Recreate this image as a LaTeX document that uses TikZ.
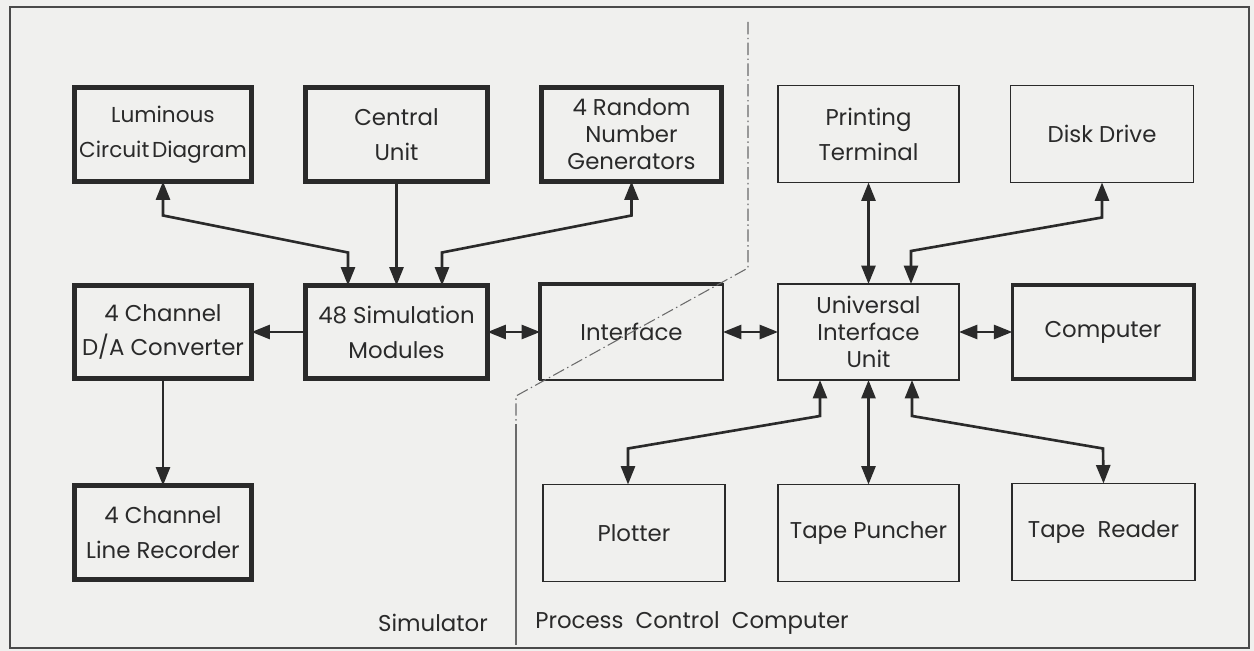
\documentclass[tikz,border=0pt]{standalone}
\usepackage{fontspec}
\setmainfont{Poppins}
\usetikzlibrary{arrows.meta,calc}
\definecolor{ink}{HTML}{2A2A2A}
\definecolor{paper}{HTML}{F0F0EE}
\definecolor{divcol}{HTML}{6A6A6A}
\begin{document}
\begin{tikzpicture}[x=0.02cm,y=-0.02cm,
  box/.style={draw=ink, text=ink, align=center, inner sep=0pt, outer sep=0pt,
    font=\fontsize{13}{19.9}\selectfont},
  heavy/.style={box, line width=2.9pt},
  light/.style={box, line width=1.1pt},
  medium/.style={box, line width=2pt},
  three/.style={font=\fontsize{13}{15.4}\selectfont},
  conn/.style={draw=ink, line width=1.5pt},
  tip/.tip={Triangle[length=10.5pt,width=8pt]},
  one/.style={conn, -tip},
  dbl/.style={conn, tip-tip},
  divider/.style={draw=divcol, line width=0.6pt, dash pattern=on 7pt off 2pt on 0.8pt off 2pt},
  lbl/.style={text=ink, inner sep=0pt, font=\fontsize{13}{16}\selectfont}
]
\useasboundingbox (0,0) rectangle (1254,651);
\fill[paper] (0,0) rectangle (1254,651);
\draw[ink!85, line width=1.3pt] (10,7) rectangle (1249,648);

% row 1
\node[heavy, minimum width=3.54cm, minimum height=1.88cm, font=\fontsize{12.3}{19.9}\selectfont] (lum) at (163,134.5) {Luminous\\Circuit\hspace{0.12em}Diagram};
\node[heavy, minimum width=3.64cm, minimum height=1.88cm] (cen) at (396.5,134.5) {Central\\Unit};
\node[heavy, three, minimum width=3.60cm, minimum height=1.88cm] (rng) at (631.5,134.5) {4 Random\\Number\\Generators};
\node[light, minimum width=3.62cm, minimum height=1.94cm] (prt) at (868.5,134) {Printing\\Terminal};
\node[light, minimum width=3.66cm, minimum height=1.94cm] (dsk) at (1102,134) {Disk Drive};
% row 2
\node[heavy, minimum width=3.54cm, minimum height=1.86cm] (dac) at (163,332) {4 Channel\\D/A Converter};
\node[heavy, minimum width=3.64cm, minimum height=1.86cm] (sim) at (396.5,332) {48 Simulation\\Modules};
\node[light, minimum width=3.66cm, minimum height=1.92cm] (ifc) at (631.5,332) {Interface};
\draw[ink, line width=2.6pt] (ifc.south west) -- (ifc.north west) -- (ifc.north east);
\node[light, three, minimum width=3.62cm, minimum height=1.92cm] (uiu) at (868.5,332) {Universal\\Interface\\Unit};
\node[medium, minimum width=3.63cm, minimum height=1.89cm] (cmp) at (1103,332) {Computer};
% row 3
\node[heavy, minimum width=3.54cm, minimum height=1.88cm] (rec) at (163,532.5) {4 Channel\\Line Recorder};
\node[light, minimum width=3.64cm, minimum height=1.94cm] (plt) at (634,533) {Plotter};
\node[light, minimum width=3.62cm, minimum height=1.94cm] (pun) at (868.5,533) {Tape Puncher};
\node[light, minimum width=3.66cm, minimum height=1.94cm] (rdr) at (1103.5,532) {Tape\ \ Reader};

% labels
\node[lbl] (simlbl) at (433,623) {Simulator};
\node[lbl] (pcclbl) at (692,623) {Process\ \ Control\ \ Computer};

% divider
\draw[divider] (748,22) -- (748,268) -- (516,396) -- (516,424);
\draw[draw=divcol, line width=0.6pt] (516,424) -- (516,645);

% connectors
\draw[dbl] (lum.south) -- ++(0,34) -- ($(sim.north)+(-48.5,-33)$) -- ($(sim.north)+(-48.5,0)$);
\draw[one] (cen.south) -- (sim.north);
\draw[dbl] (rng.south) -- ++(0,34) -- ($(sim.north)+(45.5,-33)$) -- ($(sim.north)+(45.5,0)$);
\draw[one] (sim.west) -- (dac.east);
\draw[one] (dac.south) -- (rec.north);
\draw[dbl] (sim.east) -- (ifc.west);
\draw[dbl] (ifc.east) -- (uiu.west);
\draw[dbl] (uiu.east) -- (cmp.west);
\draw[dbl] (prt.south) -- (uiu.north);
\draw[dbl] (dsk.south) -- ++(0,35) -- ($(uiu.north)+(42.5,-33)$) -- ($(uiu.north)+(42.5,0)$);
\draw[dbl] ($(uiu.south)+(-48.5,0)$) -- ++(0,36) -- ($(plt.north)+(-6,-36)$) -- ($(plt.north)+(-6,0)$);
\draw[dbl] (uiu.south) -- (pun.north);
\draw[dbl] ($(uiu.south)+(43.5,0)$) -- ++(0,36) -- ($(rdr.north)+(-0.5,-35)$) -- (rdr.north);
\end{tikzpicture}
\end{document}
